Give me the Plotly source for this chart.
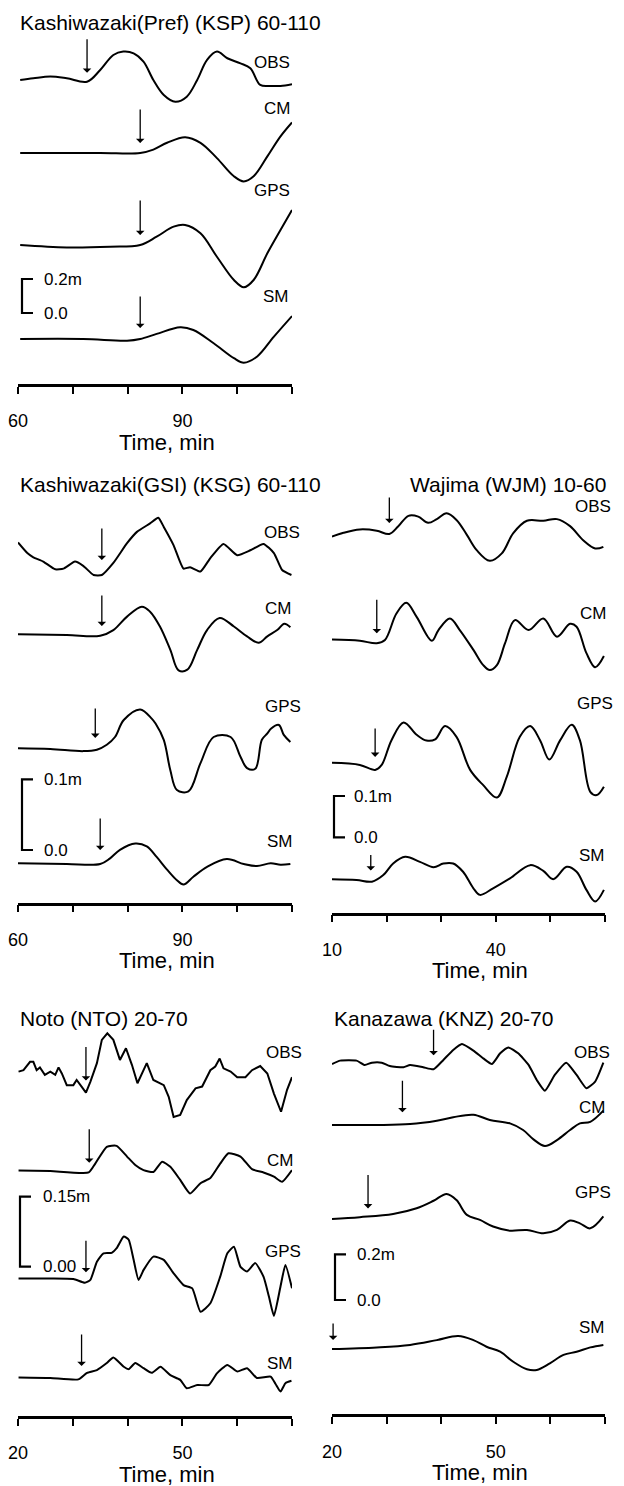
import numpy as np
import plotly.graph_objects as go

# ---------------- data (values in metres, time in minutes) ----------------
series_names = ["OBS", "CM", "GPS", "SM"]

# Kashiwazaki(Pref) (KSP)
ksp_t_obs = [60.4, 62.8, 65.9, 68.9, 72.6, 75.0, 77.4, 79.2, 81.1, 82.9, 84.7, 86.6, 88.7, 90.8, 92.7, 94.5, 96.3, 98.2, 100.6, 102.4, 104.2, 106.1, 107.9, 110.0]
ksp_obs = [0.0, 0.01, 0.02, 0.01, -0.01, 0.059, 0.147, 0.167, 0.157, 0.108, 0.0, -0.088, -0.128, -0.098, 0.0, 0.118, 0.167, 0.128, 0.098, 0.069, -0.029, -0.035, -0.035, -0.025]
ksp_t_cm = [60.4, 75.0, 82.3, 84.7, 87.2, 90.5, 93.3, 96.3, 99.4, 101.2, 103.0, 105.5, 107.9, 110.0]
ksp_cm = [0.0, 0.0, 0.0, 0.02, 0.06, 0.093, 0.06, -0.03, -0.137, -0.167, -0.137, -0.02, 0.098, 0.18]
ksp_t_gps = [60.4, 68.9, 76.8, 82.3, 85.3, 88.4, 90.5, 93.3, 96.3, 99.4, 101.2, 103.0, 105.5, 107.9, 110.0]
ksp_gps = [0.0, -0.014, -0.01, 0.0, 0.049, 0.108, 0.118, 0.069, -0.069, -0.206, -0.249, -0.206, -0.049, 0.088, 0.206]
ksp_t_sm = [60.4, 71.9, 79.9, 82.3, 85.3, 89.6, 92.0, 95.7, 99.4, 101.2, 103.6, 106.7, 110.0]
ksp_sm = [0.0, 0.0, -0.01, 0.0, 0.03, 0.069, 0.053, -0.025, -0.113, -0.139, -0.104, 0.014, 0.135]
ksp_arrival = [72.6, 82.3, 82.3, 82.3]

# Kashiwazaki(GSI) (KSG)
ksg_t_obs = [60.0, 61.7, 62.8, 64.6, 66.8, 68.3, 70.4, 71.9, 73.8, 75.3, 77.4, 79.9, 81.7, 84.1, 85.6, 86.6, 88.4, 90.2, 91.4, 93.3, 95.1, 97.5, 100.0, 102.4, 104.8, 106.7, 108.2, 109.9]
ksg_obs = [0.046, 0.031, 0.025, 0.019, 0.008, 0.009, 0.019, 0.013, 0.0, 0.0, 0.017, 0.045, 0.061, 0.073, 0.081, 0.068, 0.042, 0.009, 0.011, 0.005, 0.024, 0.044, 0.028, 0.035, 0.044, 0.031, 0.007, 0.0]
ksg_t_cm = [60.0, 68.9, 75.0, 77.4, 79.9, 82.6, 84.1, 85.9, 87.8, 89.3, 90.9, 92.7, 94.5, 96.8, 99.4, 101.8, 103.9, 105.5, 107.3, 108.6, 109.7]
ksg_cm = [0.001, 0.0, -0.001, 0.007, 0.026, 0.04, 0.033, 0.012, -0.021, -0.05, -0.049, -0.021, 0.007, 0.024, 0.012, -0.002, -0.011, -0.002, 0.007, 0.016, 0.011]
ksg_t_gps = [60.0, 65.9, 71.9, 74.4, 76.2, 77.7, 79.3, 82.3, 84.4, 85.1, 86.6, 87.8, 89.0, 91.1, 93.3, 95.7, 98.8, 100.6, 101.8, 103.3, 104.5, 105.5, 106.2, 107.6, 108.5, 109.7]
ksg_gps = [0.001, 0.0, -0.003, -0.001, 0.006, 0.017, 0.041, 0.056, 0.043, 0.036, 0.013, -0.030, -0.058, -0.06, -0.02, 0.017, 0.017, -0.011, -0.027, -0.028, 0.013, 0.022, 0.029, 0.034, 0.020, 0.010]
ksg_t_sm = [60.0, 68.9, 75.0, 76.8, 78.6, 81.4, 83.5, 85.3, 87.2, 89.0, 90.2, 92.0, 94.5, 98.1, 101.2, 103.6, 106.1, 107.9, 109.7]
ksg_sm = [0.001, 0.0, 0.0, 0.008, 0.020, 0.029, 0.025, 0.010, -0.008, -0.023, -0.029, -0.018, -0.004, 0.007, 0.0, -0.003, 0.001, -0.001, 0.0]
ksg_arrival = [75.3, 75.3, 74.1, 75.0]

# Wajima (WJM)
wjm_t_obs = [10.0, 12.1, 15.1, 18.2, 20.5, 22.1, 24.0, 25.8, 27.6, 29.2, 31.0, 32.8, 34.7, 36.5, 38.9, 41.1, 43.2, 45.7, 48.7, 51.2, 53.6, 56.0, 58.2, 59.7]
wjm_obs = [-0.0065, 0.003, 0.011, 0.008, 0.0, 0.018, 0.044, 0.042, 0.027, 0.036, 0.05, 0.034, -0.002, -0.039, -0.065, -0.047, 0.002, 0.032, 0.032, 0.036, 0.019, -0.015, -0.035, -0.031]
wjm_t_cm = [10.0, 15.1, 18.2, 19.7, 21.8, 23.6, 25.5, 28.3, 29.5, 31.6, 33.4, 35.9, 37.7, 38.9, 40.2, 41.7, 43.5, 46.0, 48.7, 51.2, 53.6, 54.8, 56.6, 58.2, 59.8]
wjm_cm = [0.006, 0.003, -0.003, 0.005, 0.069, 0.095, 0.061, 0.003, 0.029, 0.057, 0.029, -0.019, -0.056, -0.068, -0.056, -0.003, 0.053, 0.029, 0.057, 0.013, 0.044, 0.037, -0.027, -0.061, -0.034]
wjm_t_gps = [10.0, 15.1, 17.9, 19.1, 20.9, 23.1, 25.5, 27.3, 28.9, 30.7, 32.8, 35.3, 37.7, 40.2, 42.0, 44.4, 46.3, 48.1, 49.8, 51.8, 53.9, 55.4, 57.3, 58.5, 59.8]
wjm_gps = [0.01, 0.005, -0.007, 0.005, 0.065, 0.108, 0.078, 0.064, 0.067, 0.099, 0.073, -0.007, -0.044, -0.074, -0.024, 0.073, 0.099, 0.065, 0.018, 0.065, 0.102, 0.065, -0.06, -0.068, -0.048]
wjm_t_sm = [10.0, 14.5, 17.3, 19.4, 21.2, 23.4, 26.1, 28.6, 30.4, 32.2, 34.0, 35.9, 37.1, 39.5, 42.6, 46.3, 48.7, 50.5, 53.0, 54.8, 56.6, 58.2, 59.8]
wjm_sm = [0.002, 0.0, -0.004, 0.012, 0.04, 0.056, 0.044, 0.031, 0.04, 0.04, 0.02, -0.02, -0.036, -0.02, 0.004, 0.036, 0.022, 0.002, 0.032, 0.02, -0.024, -0.052, -0.024]
wjm_arrival = [20.5, 18.2, 17.9, 17.1]

# Noto (NTO)
nto_t_obs = [20.1, 21.0, 22.2, 22.8, 23.4, 24.0, 24.9, 25.9, 26.8, 27.4, 28.0, 28.9, 30.1, 30.7, 31.6, 32.4, 33.2, 34.4, 35.3, 36.3, 37.4, 38.6, 39.7, 40.8, 41.8, 43.5, 44.7, 46.6, 47.5, 48.4, 49.6, 50.8, 52.4, 53.6, 55.1, 56.0, 56.8, 57.5, 58.8, 60.0, 61.5, 62.7, 64.2, 65.5, 66.7, 68.0, 69.1, 70.0]
nto_obs = [0.018, 0.021, 0.039, 0.039, 0.021, 0.027, 0.011, 0.018, 0.011, 0.027, 0.014, -0.011, -0.011, 0.0, -0.014, -0.027, -0.004, 0.036, 0.086, 0.1, 0.086, 0.043, 0.068, 0.032, -0.007, 0.036, 0.0, -0.011, -0.036, -0.079, -0.075, -0.043, -0.018, -0.014, 0.021, 0.029, 0.046, 0.025, 0.018, 0.006, 0.006, 0.021, 0.03, 0.014, -0.029, -0.068, -0.021, 0.006]
nto_t_cm = [20.1, 25.9, 32.9, 34.1, 36.2, 38.0, 39.9, 41.4, 42.9, 44.7, 46.3, 47.8, 49.6, 51.4, 53.3, 55.1, 56.9, 58.4, 60.6, 62.7, 64.8, 66.7, 68.2, 70.0]
nto_cm = [0.003, 0.002, -0.001, 0.018, 0.054, 0.056, 0.033, 0.015, 0.004, 0.0, 0.022, 0.011, -0.017, -0.046, -0.024, -0.013, 0.018, 0.04, 0.033, 0.006, -0.001, -0.01, -0.021, 0.004]
nto_t_gps = [20.1, 25.9, 30.1, 32.2, 33.2, 34.4, 35.6, 37.1, 38.0, 39.3, 40.2, 41.1, 42.0, 42.9, 44.7, 46.6, 48.4, 50.2, 51.8, 53.3, 55.1, 56.9, 58.2, 59.4, 60.6, 61.8, 63.3, 64.8, 65.8, 66.7, 67.9, 68.8, 70.0]
nto_gps = [0.001, 0.001, 0.0, -0.008, -0.002, 0.037, 0.055, 0.056, 0.066, 0.091, 0.084, 0.041, -0.002, 0.019, 0.048, 0.041, 0.012, -0.013, -0.02, -0.07, -0.052, 0.005, 0.055, 0.069, 0.026, 0.016, 0.034, 0.005, -0.038, -0.079, -0.016, 0.03, -0.02]
nto_t_sm = [20.1, 25.9, 31.0, 32.6, 34.4, 36.2, 37.4, 39.3, 40.2, 41.4, 42.9, 44.4, 46.0, 47.8, 49.6, 50.8, 52.7, 54.8, 56.3, 58.2, 60.0, 61.8, 63.6, 66.1, 67.0, 67.9, 68.8, 69.9]
nto_sm = [0.001, 0.0, -0.003, 0.011, 0.017, 0.032, 0.044, 0.024, 0.019, 0.032, 0.021, 0.011, 0.024, 0.006, -0.004, -0.022, -0.015, -0.015, 0.010, 0.028, 0.014, 0.021, 0.0, 0.003, -0.013, -0.029, -0.011, -0.006]
nto_arrival = [32.4, 33.0, 32.4, 31.6]

# Kanazawa (KNZ)
knz_t_obs = [20.0, 21.5, 24.5, 26.0, 27.3, 29.1, 30.6, 33.1, 34.3, 36.7, 38.6, 40.4, 42.2, 43.8, 45.9, 47.7, 49.3, 50.8, 52.3, 54.1, 56.0, 57.5, 59.0, 60.8, 62.9, 64.8, 66.6, 68.2, 69.7]
knz_obs = [0.013, 0.028, 0.028, 0.009, 0.019, 0.019, 0.004, -0.001, 0.009, -0.001, -0.01, 0.031, 0.075, 0.101, 0.072, 0.038, 0.013, 0.06, 0.086, 0.06, 0.009, -0.057, -0.104, -0.035, 0.019, -0.035, -0.093, -0.064, 0.019]
knz_t_cm = [20.0, 28.2, 34.3, 39.2, 42.2, 45.9, 48.9, 52.6, 55.0, 56.9, 59.0, 61.2, 63.6, 65.4, 67.3, 69.7]
knz_cm = [0.0, 0.0, 0.004, 0.019, 0.034, 0.045, 0.022, 0.007, -0.022, -0.063, -0.092, -0.066, -0.022, 0.007, 0.014, 0.063]
knz_t_gps = [20.0, 25.1, 31.2, 35.5, 38.6, 41.0, 42.8, 44.7, 47.1, 49.5, 52.6, 55.7, 58.7, 61.2, 63.6, 65.4, 67.3, 69.7]
knz_gps = [0.0, 0.008, 0.022, 0.047, 0.08, 0.11, 0.083, 0.018, -0.004, -0.033, -0.051, -0.048, -0.063, -0.048, -0.007, -0.019, -0.041, 0.011]
knz_t_sm = [20.0, 28.2, 34.3, 39.2, 43.1, 45.9, 48.3, 50.8, 53.2, 55.7, 57.5, 59.9, 62.4, 64.8, 67.3, 69.7]
knz_sm = [0.0, 0.007, 0.018, 0.039, 0.057, 0.039, 0.01, -0.012, -0.056, -0.089, -0.092, -0.063, -0.026, -0.012, 0.007, 0.018]
knz_arrival = [38.6, 32.9, 26.6, 20.2]

panel_titles = ["Kashiwazaki(Pref) (KSP) 60-110", "Kashiwazaki(GSI) (KSG) 60-110",
                "Wajima (WJM) 10-60", "Noto (NTO) 20-70", "Kanazawa (KNZ) 20-70"]
time_ranges = [(60, 110), (60, 110), (10, 60), (20, 70), (20, 70)]
scale_lengths = [0.2, 0.1, 0.1, 0.15, 0.2]
scale_top_text = ["0.2m", "0.1m", "0.1m", "0.15m", "0.2m"]
scale_bot_text = ["0.0", "0.0", "0.0", "0.00", "0.0"]
axis_title = "Time, min"

# ---------------- layout (pixel geometry, styles) ----------------
W, H = 624, 1486
FONT = "Liberation Sans, Arial, Helvetica, sans-serif"


def PX(x):
    return x / W


def PY(y):
    return 1 - y / H


panel_data = [
    [(ksp_t_obs, ksp_obs), (ksp_t_cm, ksp_cm), (ksp_t_gps, ksp_gps), (ksp_t_sm, ksp_sm)],
    [(ksg_t_obs, ksg_obs), (ksg_t_cm, ksg_cm), (ksg_t_gps, ksg_gps), (ksg_t_sm, ksg_sm)],
    [(wjm_t_obs, wjm_obs), (wjm_t_cm, wjm_cm), (wjm_t_gps, wjm_gps), (wjm_t_sm, wjm_sm)],
    [(nto_t_obs, nto_obs), (nto_t_cm, nto_cm), (nto_t_gps, nto_gps), (nto_t_sm, nto_sm)],
    [(knz_t_obs, knz_obs), (knz_t_cm, knz_cm), (knz_t_gps, knz_gps), (knz_t_sm, knz_sm)],
]
arrivals = [ksp_arrival, ksg_arrival, wjm_arrival, nto_arrival, knz_arrival]

SMOOTH = ("spline", 1.0)
SEMI = ("spline", 0.5)
LIN = ("linear", 0)

geo = [
    dict(x0=18, x1=292, axis=384.0, top=30, scale=170.0, base=[80, 153, 245, 339],
         arr_len=[35, 35, 36, 33], arr_gap=[9, 10, 10, 11],
         lab=[(292, 63), (292, 108), (292, 190), (291, 296)],
         bar=(22, 313.0, 42), title=(18, 22, "left"), xt=167, shape=[SMOOTH] * 4),
    dict(x0=18, x1=292, axis=902.7, top=500, scale=707.0, base=[575, 635, 749, 864],
         arr_len=[33, 32, 31, 33], arr_gap=[15, 9, 12, 14],
         lab=[(302, 532), (293, 608), (303, 706), (295, 842)],
         bar=(22, 850.0, 42), title=(18, 484, "left"), xt=167, shape=[SEMI, SMOOTH, SMOOTH, SMOOTH]),
    dict(x0=332, x1=605, axis=912.7, top=500, scale=413.0, base=[534, 642, 767, 880],
         arr_len=[27, 35, 30, 17], arr_gap=[11, 10, 13, 11],
         lab=[(613, 506), (608, 613), (615, 704), (607, 855)],
         bar=(334, 837.3, 352), title=(608, 484, "right"), xt=480, shape=[SMOOTH] * 4),
    dict(x0=18, x1=292, axis=1416.0, top=1030, scale=467.0, base=[1080, 1172, 1279, 1378],
         arr_len=[35, 35, 33, 33], arr_gap=[12, 9, 10, 11],
         lab=[(304, 1052), (295, 1160), (303, 1251), (295, 1363)],
         bar=(20, 1266.7, 41), title=(18, 1018, "left"), xt=167, shape=[LIN, SEMI, SEMI, SEMI]),
    dict(x0=332, x1=605, axis=1414.3, top=1030, scale=228.0, base=[1067, 1125, 1219, 1349],
         arr_len=[27, 33, 35, 18], arr_gap=[14, 12, 8, 9],
         lab=[(612, 1052), (607, 1107), (613, 1192), (607, 1327)],
         bar=(335, 1300.0, 355), title=(332, 1018, "left"), xt=480, shape=[SEMI, SMOOTH, SMOOTH, SMOOTH]),
]

fig = go.Figure()
annotations = []
shapes = []
layout = dict(width=W, height=H, margin=dict(l=0, r=0, t=0, b=0, pad=0, autoexpand=False),
              paper_bgcolor="white", plot_bgcolor="white", showlegend=False,
              font=dict(family=FONT, color="black"))

for k, g in enumerate(geo):
    idx = "" if k == 0 else str(k + 1)
    xid, yid = "x" + idx, "y" + idx
    t0, t1 = time_ranges[k]
    ymax = (g["axis"] - g["top"]) / g["scale"]
    tickvals = list(range(t0, t1 + 1, 10))
    ticktext = [str(v) if v in (t0, t0 + 30) else "" for v in tickvals]
    layout["xaxis" + idx] = dict(domain=[PX(g["x0"]), PX(g["x1"])], range=[t0, t1], anchor=yid,
                                 showline=True, linewidth=2.5, linecolor="black",
                                 ticks="outside", ticklen=7, tickwidth=1.5, tickcolor="black",
                                 tickvals=tickvals, ticktext=ticktext, ticklabelstandoff=12,
                                 tickfont=dict(size=18, family=FONT, color="black"),
                                 showgrid=False, zeroline=False, fixedrange=True, automargin=False)
    layout["yaxis" + idx] = dict(domain=[PY(g["axis"]), PY(g["top"])], range=[0, ymax],
                                 anchor=xid, visible=False, fixedrange=True, automargin=False)

    for j, (tt, vv) in enumerate(panel_data[k]):
        off = (g["axis"] - g["base"][j]) / g["scale"]
        shp, sm = g["shape"][j]
        line = dict(color="black", width=2, shape=shp)
        if shp == "spline":
            line["smoothing"] = sm
        fig.add_trace(go.Scatter(x=tt, y=np.array(vv) + off, xaxis=xid, yaxis=yid, mode="lines",
                                 name=series_names[j], hoverinfo="skip", line=line))
        # arrival arrow
        ta = arrivals[k][j]
        va = float(np.interp(ta, tt, vv)) + off + g["arr_gap"][j] / g["scale"]
        annotations.append(dict(x=ta, y=va, xref=xid, yref=yid, text="", showarrow=True,
                                ax=0, ay=-g["arr_len"][j], arrowhead=1, arrowsize=1.1,
                                arrowwidth=1.3, arrowcolor="black", standoff=0))
        # series label
        lx, ly = g["lab"][j]
        annotations.append(dict(x=PX(lx), y=PY(ly), xref="paper", yref="paper", text=series_names[j],
                                showarrow=False, xanchor="right", yanchor="middle",
                                font=dict(size=17, family=FONT, color="black")))

    # vertical scale bar
    bx, bbot, blab = g["bar"]
    y_b = (g["axis"] - bbot) / g["scale"]
    y_t = y_b + scale_lengths[k]
    shapes.append(dict(type="path", xref="paper", yref=yid,
                       path=f"M {PX(bx + 11)},{y_t} L {PX(bx)},{y_t} L {PX(bx)},{y_b} L {PX(bx + 11)},{y_b}",
                       line=dict(color="black", width=2.2)))
    annotations.append(dict(x=PX(blab), y=y_t, xref="paper", yref=yid, text=scale_top_text[k],
                            showarrow=False, xanchor="left", yanchor="middle",
                            font=dict(size=17, family=FONT, color="black")))
    annotations.append(dict(x=PX(blab), y=y_b, xref="paper", yref=yid, text=scale_bot_text[k],
                            showarrow=False, xanchor="left", yanchor="middle",
                            font=dict(size=17, family=FONT, color="black")))

    # panel title
    tx, ty, ta_ = g["title"]
    annotations.append(dict(x=PX(tx), y=PY(ty), xref="paper", yref="paper", text=panel_titles[k],
                            showarrow=False, xanchor=ta_, yanchor="middle",
                            font=dict(size=21, family=FONT, color="black")))
    # x-axis title
    annotations.append(dict(x=PX(g["xt"]), y=PY(g["axis"] + 58), xref="paper", yref="paper",
                            text=axis_title, showarrow=False, xanchor="center", yanchor="middle",
                            font=dict(size=22, family=FONT, color="black")))

layout["annotations"] = annotations
layout["shapes"] = shapes
fig.update_layout(**layout)
fig.write_html("out.html", config={"displayModeBar": False},
               post_script="document.body.style.margin='0';document.body.style.overflow='hidden';")
